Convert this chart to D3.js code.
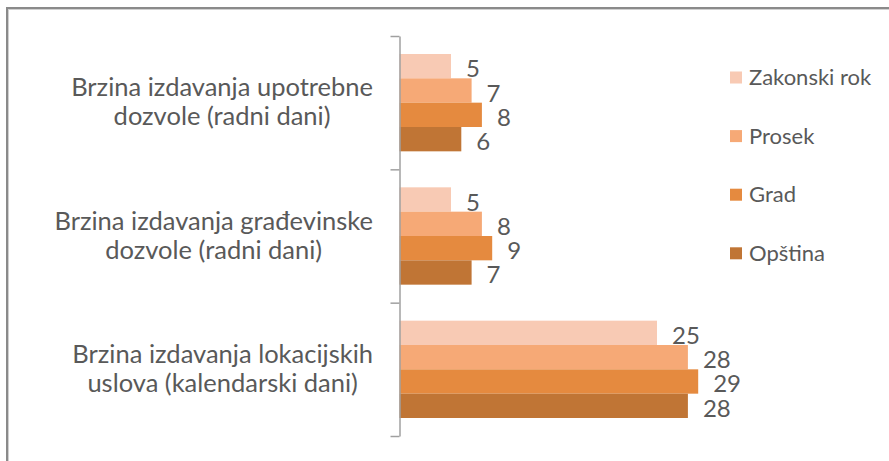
<!DOCTYPE html>
<html>
<head>
<meta charset="utf-8">
<script src="https://cdn.jsdelivr.net/npm/d3@7"></script>
<style>
  body { margin: 0; background: #fff; }
  svg { display: block; font-family: Lato, "Open Sans", sans-serif; }
</style>
</head>
<body>
<svg class="chart" width="889" height="461"></svg>
<script>
// categories, each split into its two wrapped lines
var categories = [
  ["Brzina izdavanja upotrebne", "dozvole (radni dani)"],
  ["Brzina izdavanja građevinske", "dozvole (radni dani)"],
  ["Brzina izdavanja lokacijskih", "uslova (kalendarski dani)"]
];
var seriesNames = ["Zakonski rok", "Prosek", "Grad", "Opština"];
var zakonskiRok = [5, 5, 25];
var prosek = [7, 8, 28];
var grad = [8, 9, 29];
var opstina = [6, 7, 28];
var colors = ["#f8cab4", "#f6a976", "#e58a3f", "#c07535"];

var seriesValues = [zakonskiRok, prosek, grad, opstina];

var svg = d3.select(".chart");

// outer frame (only top and left edges are visible)
svg.append("rect")
    .attr("x", 7).attr("y", 8)
    .attr("width", 900).attr("height", 470)
    .attr("fill", "none")
    .attr("stroke", "#8a8a8a")
    .attr("stroke-width", 2);
svg.append("rect")
    .attr("x", 8.5).attr("y", 9.5)
    .attr("width", 900).attr("height", 470)
    .attr("fill", "none")
    .attr("stroke", "#d0d0d0")
    .attr("stroke-width", 1);

var plotTop = 36, plotBottom = 436;
var catIdx = d3.range(categories.length);

var y0 = d3.scaleBand()
    .domain(catIdx)
    .range([plotTop, plotBottom])
    .paddingInner(0.27)
    .paddingOuter(0.135);

var y1 = d3.scaleBand()
    .domain(d3.range(seriesNames.length))
    .range([0, y0.bandwidth()]);

var x = d3.scaleLinear()
    .domain([0, 30])
    .range([399.5, 708.5]);

// bars
var groups = svg.selectAll("g.cat")
    .data(catIdx)
  .enter().append("g")
    .attr("class", "cat")
    .attr("transform", function (c) { return "translate(0," + y0(c) + ")"; });

groups.selectAll("rect")
    .data(function (c) {
      return seriesValues.map(function (s, i) { return {i: i, v: s[c]}; });
    })
  .enter().append("rect")
    .attr("x", x(0))
    .attr("y", function (d) { return y1(d.i); })
    .attr("width", function (d) { return x(d.v) - x(0); })
    .attr("height", y1.bandwidth())
    .attr("fill", function (d) { return colors[d.i]; });

groups.selectAll("text.val")
    .data(function (c) {
      return seriesValues.map(function (s, i) { return {i: i, v: s[c]}; });
    })
  .enter().append("text")
    .attr("class", "val")
    .attr("x", function (d) { return x(d.v) + 15; })
    .attr("y", function (d) { return y1(d.i) + y1.bandwidth() / 2 + 11; })
    .attr("fill", "#595959")
    .style("font-size", "24px")
    .text(function (d) { return d.v; });

// category axis with ticks between groups
var bounds = d3.scaleLinear()
    .domain([0, categories.length])
    .range([plotTop, plotBottom]);

var axis = svg.append("g")
    .attr("transform", "translate(" + x(0) + ",0)")
    .call(d3.axisLeft(bounds)
      .tickValues(d3.range(categories.length + 1))
      .tickSize(9)
      .tickSizeOuter(0)
      .tickFormat(""));
axis.selectAll("path, line").attr("stroke", "#a0a0a0").attr("stroke-width", 1.5);

// category labels, centered lines, longest line ending near the axis
var labelRight = 373;
categories.forEach(function (lines, c) {
  var t = svg.append("text")
      .attr("fill", "#595959")
      .style("font-size", "25.5px")
      .attr("text-anchor", "middle");
  var cy = y0(c) + y0.bandwidth() / 2;
  var spans = lines.map(function (ln, k) {
    return t.append("tspan")
      .attr("y", cy + 8 + (k - (lines.length - 1) / 2) * 29)
      .text(ln);
  });
  var maxW = d3.max(spans, function (s) { return s.node().getComputedTextLength(); });
  spans.forEach(function (s) { s.attr("x", labelRight - maxW / 2); });
});

// legend
var legend = svg.selectAll("g.leg")
    .data(seriesNames)
  .enter().append("g")
    .attr("class", "leg")
    .attr("transform", function (d, i) { return "translate(730," + (71.5 + i * 58.6) + ")"; });

legend.append("rect")
    .attr("width", 12).attr("height", 12)
    .attr("fill", function (d, i) { return colors[i]; });

legend.append("text")
    .attr("x", 19)
    .attr("y", 13.5)
    .attr("fill", "#595959")
    .style("font-size", "22px")
    .text(function (d) { return d; });
</script>
</body>
</html>
